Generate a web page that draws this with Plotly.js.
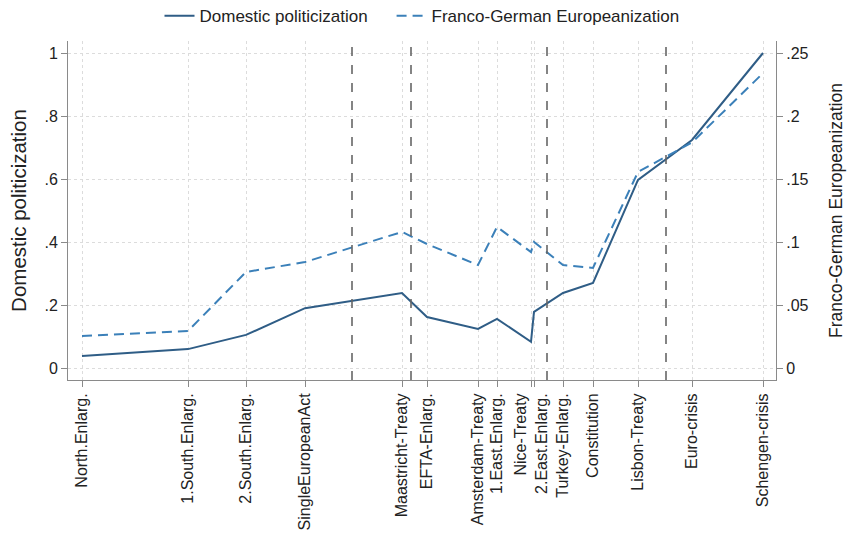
<!DOCTYPE html>
<html>
<head>
<meta charset="utf-8">
<script src="https://cdn.plot.ly/plotly-3.0.1.min.js"></script>
<style>html,body{margin:0;padding:0;background:#fff;}#chart{width:851px;height:542px;}</style>
</head>
<body>
<div id="chart"></div>
<script>
// Event labels (x axis) and their positions on the event axis
const events = ["North.Enlarg.", "1.South.Enlarg.", "2.South.Enlarg.", "SingleEuropeanAct",
  "Maastricht-Treaty", "EFTA-Enlarg.", "Amsterdam-Treaty", "1.East.Enlarg.", "Nice-Treaty",
  "2.East.Enlarg.", "Turkey-Enlarg.", "Constitution", "Lisbon-Treaty", "Euro-crisis", "Schengen-crisis"];
const eventPos = [14, 120, 178, 237, 334, 359, 410, 429, 463, 466, 495, 525, 570, 624, 695];
// Tick labels shown (Nice-Treaty and 2.East.Enlarg. share one stacked label)
const tickLabels = ["North.Enlarg.", "1.South.Enlarg.", "2.South.Enlarg.", "SingleEuropeanAct",
  "Maastricht-Treaty", "EFTA-Enlarg.", "Amsterdam-Treaty", "1.East.Enlarg.", "Nice-Treaty<br>2.East.Enlarg.",
  "", "Turkey-Enlarg.", "Constitution", "Lisbon-Treaty", "Euro-crisis", "Schengen-crisis"];
// Series values
const domesticPoliticization = [0.038, 0.060, 0.105, 0.190, 0.238, 0.162, 0.124, 0.156, 0.083, 0.178, 0.238, 0.270, 0.597, 0.724, 1.000];
const francoGermanEuropeanization = [0.0254, 0.0294, 0.0762, 0.0841, 0.108, 0.0984, 0.0817, 0.112, 0.092, 0.100, 0.0817, 0.0794, 0.1556, 0.179, 0.234];
// Reference (vertical dashed) lines on the event axis
const refLines = [284, 343, 479, 598];
// Axis ticks
const leftTickVals = [0, 0.2, 0.4, 0.6, 0.8, 1];
const leftTickText = ["0", ".2", ".4", ".6", ".8", "1"];
const rightTickVals = [0, 0.05, 0.1, 0.15, 0.2, 0.25];
const rightTickText = ["0", ".05", ".1", ".15", ".2", ".25"];

const FONT = "Arial, 'Liberation Sans', sans-serif";
const GRID = "#dcdcdc";
const AXIS = "#8a8a8a";

const traces = [
  {x: eventPos, y: domesticPoliticization, type: "scatter", mode: "lines",
   name: "Domestic politicization\u00a0\u00a0\u00a0\u00a0", line: {color: "#2f5d86", width: 2}, yaxis: "y"},
  {x: eventPos, y: francoGermanEuropeanization, type: "scatter", mode: "lines",
   name: "Franco-German Europeanization", line: {color: "#3b80b9", width: 2, dash: "10px,6px"}, yaxis: "y2"}
];

const shapes = refLines.map(v => ({
  type: "line", xref: "x", yref: "paper", x0: v, x1: v, y0: 0, y1: 1,
  line: {color: "#666666", width: 1.6, dash: "dash"}, layer: "above"
}));

const layout = {
  width: 851, height: 542,
  margin: {l: 68, r: 75, t: 41, b: 162},
  paper_bgcolor: "#ffffff", plot_bgcolor: "#ffffff",
  font: {family: FONT, color: "#222222", size: 16},
  showlegend: true,
  legend: {orientation: "h", x: 0.5, xanchor: "center", y: 0.97, yref: "container", yanchor: "middle",
           font: {size: 17, family: FONT, color: "#222"}, bgcolor: "rgba(0,0,0,0)"},
  xaxis: {
    range: [0, 708], tickmode: "array", tickvals: eventPos, ticktext: tickLabels,
    tickangle: -90, tickfont: {size: 16, family: FONT, color: "#222"},
    ticks: "outside", ticklen: 6, tickcolor: AXIS, showline: true, linecolor: AXIS, linewidth: 1,
    showgrid: true, gridcolor: GRID, griddash: "dot", gridwidth: 1, zeroline: false, fixedrange: true
  },
  yaxis: {
    range: [-0.0381, 1.0381], tickmode: "array", tickvals: leftTickVals, ticktext: leftTickText,
    tickfont: {size: 16, family: FONT, color: "#222"},
    ticks: "outside", ticklen: 6, tickcolor: AXIS, showline: true, linecolor: AXIS, linewidth: 1,
    showgrid: true, gridcolor: GRID, griddash: "dot", gridwidth: 1, zeroline: false,
    title: {text: "Domestic politicization", font: {size: 20.5, family: FONT, color: "#222"}, standoff: 12}
  },
  yaxis2: {
    overlaying: "y", side: "right",
    range: [-0.009525, 0.259525], tickmode: "array", tickvals: rightTickVals, ticktext: rightTickText,
    tickfont: {size: 16, family: FONT, color: "#222"},
    ticks: "outside", ticklen: 6, tickcolor: AXIS, showline: true, linecolor: AXIS, linewidth: 1,
    showgrid: false, zeroline: false,
    title: {text: "Franco-German Europeanization", font: {size: 17.5, family: FONT, color: "#222"}, standoff: 22}
  },
  shapes: shapes
};

Plotly.newPlot("chart", traces, layout, {displayModeBar: false, staticPlot: true});
</script>
</body>
</html>
